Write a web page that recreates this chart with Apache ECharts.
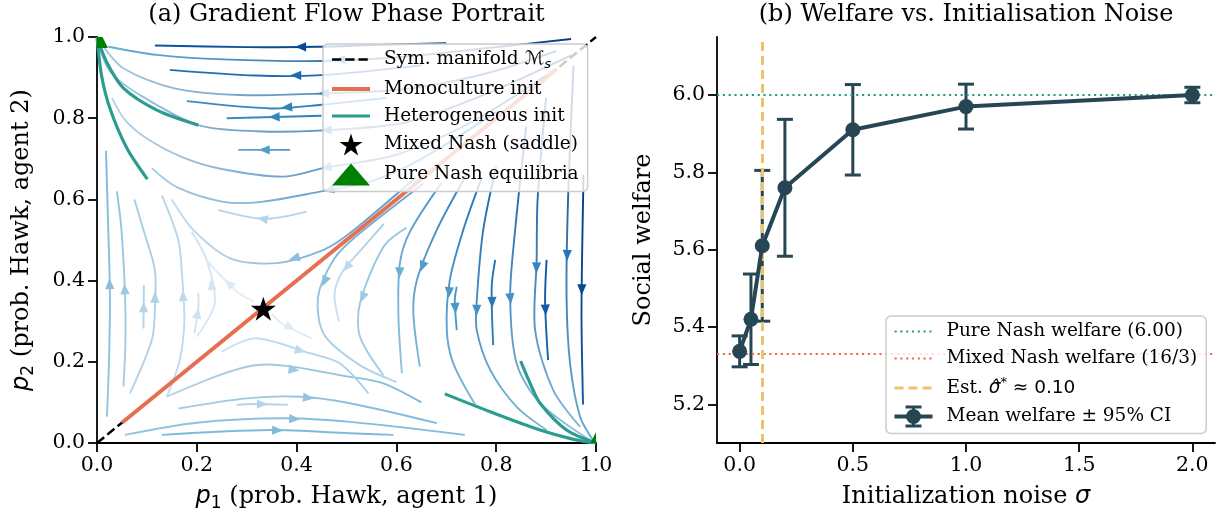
<!DOCTYPE html>
<html><head><meta charset="utf-8">
<script src="https://cdn.jsdelivr.net/npm/echarts@6/dist/echarts.min.js"></script>
<style>html,body{margin:0;padding:0;background:#fff}#c{width:1217px;height:523px}</style>
</head><body><div id="c"></div>
<script>
// ---------------- data ----------------
// (a) phase portrait: tick values
const phaseTicks = [0, 0.2, 0.4, 0.6, 0.8, 1.0];
// streamlines, ordered along the flow: [p1, p2]
const streamPaths = [
  [[0.70,0.985],[0.55,0.98],[0.44,0.976],[0.30,0.975],[0.116,0.979]],
  [[0.95,0.995],[0.80,0.975],[0.62,0.952],[0.45,0.941],[0.253,0.945],[0.12,0.956],[0.023,0.976]],
  [[0.65,0.93],[0.45,0.906],[0.317,0.905],[0.146,0.919]],
  [[0.92,0.965],[0.78,0.91],[0.62,0.872],[0.4536,0.861],[0.287,0.857],[0.153,0.874],[0.053,0.923],[0.008,0.985]],
  [[0.58,0.85],[0.45,0.833],[0.35,0.824],[0.18,0.842]],
  [[0.45,0.806],[0.26,0.80]],
  [[0.95,0.955],[0.78,0.86],[0.62,0.79],[0.4536,0.77],[0.32,0.768],[0.203,0.783],[0.086,0.857],[0.026,0.915],[0.005,0.975]],
  [[0.387,0.722],[0.283,0.722]],
  [[0.90,0.905],[0.75,0.79],[0.6,0.71],[0.4536,0.677],[0.373,0.656],[0.25,0.675],[0.173,0.703],[0.10,0.75],[0.056,0.796],[0.03,0.85]],
  [[0.80,0.815],[0.65,0.70],[0.55,0.645],[0.447,0.619],[0.33,0.594],[0.253,0.594],[0.16,0.63],[0.11,0.677]],
  [[0.42,0.57],[0.333,0.552],[0.243,0.574]],
  [[0.64,0.655],[0.507,0.517],[0.453,0.475],[0.36,0.443],[0.267,0.455],[0.193,0.525],[0.15,0.6]],
  [[0.02,0.065],[0.024,0.2],[0.026,0.36],[0.022,0.55],[0.018,0.72]],
  [[0.053,0.139],[0.057,0.25],[0.056,0.369],[0.049,0.525],[0.04,0.62]],
  [[0.093,0.282],[0.094,0.389]],
  [[0.066,0.122],[0.11,0.254],[0.116,0.328],[0.116,0.426],[0.093,0.525],[0.075,0.6]],
  [[0.14,0.114],[0.165,0.2],[0.175,0.3],[0.17,0.42],[0.163,0.5],[0.13,0.61]],
  [[0.195,0.27],[0.203,0.33],[0.203,0.37]],
  [[0.2,0.262],[0.236,0.344],[0.22,0.45],[0.19,0.52]],
  [[0.315,0.348],[0.28,0.373],[0.22,0.45]],
  [[0.35,0.318],[0.37,0.295],[0.43,0.258]],
  [[0.975,0.66],[0.972,0.45],[0.971,0.30],[0.974,0.095]],
  [[0.955,0.93],[0.944,0.6],[0.941,0.36],[0.948,0.196],[0.968,0.065],[0.995,0.005]],
  [[0.901,0.451],[0.898,0.348],[0.904,0.204]],
  [[0.9,0.85],[0.883,0.6],[0.881,0.447],[0.878,0.278],[0.914,0.131],[0.968,0.04]],
  [[0.86,0.78],[0.838,0.525],[0.828,0.36],[0.841,0.196],[0.888,0.098],[0.988,0.007]],
  [[0.798,0.451],[0.791,0.385],[0.794,0.241]],
  [[0.80,0.68],[0.774,0.525],[0.761,0.35],[0.761,0.278],[0.788,0.18],[0.841,0.089],[0.901,0.032]],
  [[0.721,0.385],[0.717,0.352],[0.721,0.278]],
  [[0.77,0.65],[0.734,0.525],[0.707,0.401],[0.701,0.278],[0.714,0.196],[0.758,0.094]],
  [[0.74,0.66],[0.681,0.525],[0.641,0.401],[0.634,0.319],[0.647,0.188]],
  [[0.69,0.64],[0.627,0.52],[0.607,0.443],[0.604,0.315],[0.611,0.172]],
  [[0.62,0.53],[0.574,0.483],[0.527,0.344],[0.527,0.262],[0.574,0.167]],
  [[0.655,0.64],[0.517,0.507],[0.475,0.453],[0.443,0.36],[0.455,0.267],[0.525,0.193],[0.6,0.15]],
  [[0.575,0.54],[0.525,0.47],[0.49,0.418],[0.476,0.365],[0.485,0.30]],
  [[0.13,0.02],[0.347,0.032],[0.507,0.024],[0.594,0.02]],
  [[0.056,0.02],[0.2,0.05],[0.373,0.061],[0.507,0.052],[0.737,0.02]],
  [[0.163,0.085],[0.3,0.11],[0.407,0.114],[0.507,0.098],[0.681,0.049]],
  [[0.28,0.094],[0.313,0.096],[0.383,0.094]],
  [[0.14,0.114],[0.32,0.192],[0.507,0.163],[0.574,0.147],[0.65,0.1]],
  [[0.25,0.225],[0.317,0.258],[0.427,0.221],[0.487,0.196],[0.544,0.122]]
];
// flow speed (0..1 on the Blues scale) at start and end of each streamline
const streamSpeed = [
  [0.95,0.85],[0.95,0.5],[0.8,0.75],[0.9,0.35],[0.72,0.65],[0.7,0.65],[0.9,0.35],[0.6,0.55],
  [0.85,0.3],[0.75,0.35],[0.3,0.3],[0.6,0.25],
  [0.4,0.45],[0.35,0.4],[0.3,0.3],[0.3,0.35],[0.25,0.3],[0.2,0.2],[0.15,0.2],[0.1,0.15],[0.1,0.15],
  [0.95,0.85],[0.95,0.5],[0.85,0.8],[0.9,0.45],[0.85,0.4],[0.75,0.7],[0.8,0.45],[0.6,0.6],
  [0.75,0.45],[0.7,0.45],[0.6,0.4],[0.4,0.35],[0.55,0.3],[0.35,0.2],
  [0.45,0.45],[0.4,0.45],[0.35,0.45],[0.3,0.3],[0.3,0.45],[0.2,0.35]
];
const symManifold = [[0,0],[1,1]];
const monoculture = [[0.05,0.05],[0.92,0.92]];
const heteroPaths = [
  [[0.203,0.783],[0.12,0.82],[0.053,0.874],[0.019,0.939],[0,1]],
  [[0.101,0.65],[0.06,0.726],[0.026,0.824],[0.009,0.906],[0,1]],
  [[0.697,0.121],[0.788,0.077],[0.888,0.032],[0.955,0.009],[1,0]],
  [[0.849,0.202],[0.868,0.147],[0.888,0.098],[0.941,0.032],[1,0]]
];
const mixedNash = [[1/3,1/3]];
const pureNash = [[0,1],[1,0]];

// (b) welfare vs noise
const sigmaValues = [0, 0.05, 0.1, 0.2, 0.5, 1.0, 2.0];
const meanWelfare = [5.337, 5.42, 5.61, 5.76, 5.91, 5.97, 6.0];
const ciHalf = [0.04, 0.117, 0.195, 0.177, 0.117, 0.058, 0.02];
const pureNashWelfare = 6.0;
const mixedNashWelfare = 16/3;
const sigmaStar = 0.10;
const sigmaTicks = [0, 0.5, 1.0, 1.5, 2.0];
const welfareTicks = [5.2, 5.4, 5.6, 5.8, 6.0];

// ---------------- helpers ----------------
const bluesStops = ['#f7fbff','#deebf7','#c6dbef','#9ecae1','#6baed6','#4292c6','#2171b5','#08519c','#08306b'];
function hex2rgb(h){return [parseInt(h.slice(1,3),16),parseInt(h.slice(3,5),16),parseInt(h.slice(5,7),16)];}
function blues(t){
  t=Math.max(0,Math.min(1,t));
  const f=t*(bluesStops.length-1), i=Math.min(Math.floor(f),bluesStops.length-2), r=f-i;
  const a=hex2rgb(bluesStops[i]), b=hex2rgb(bluesStops[i+1]);
  return 'rgb('+a.map((v,k)=>Math.round(v+(b[k]-v)*r)).join(',')+')';
}
const SERIF = 'DejaVu Serif';
const SANS = 'DejaVu Sans';
const starPath = 'path://M0,-10 L2.245,-3.09 L9.51,-3.09 L3.63,1.18 L5.88,8.09 L0,3.82 L-5.88,8.09 L-3.63,1.18 L-9.51,-3.09 L-2.245,-3.09 Z';
// legend glyph for "mean ± CI": line + marker + capped error bar (38 x 22 box)
const errIcon = 'path://M0,9 L38,9 L38,13 L0,13 Z M17.5,1.5 L20.5,1.5 L20.5,20.5 L17.5,20.5 Z M11,0 L27,0 L27,3 L11,3 Z M11,19 L27,19 L27,22 L11,22 Z M26.5,11 A7.5,7.5 0 1,1 11.5,11 A7.5,7.5 0 1,1 26.5,11 Z';
const C_ORANGE = '#e76f51', C_TEAL = '#2a9d8f', C_YELLOW = '#e9c46a', C_DARK = '#264653';

const tickFont = {fontFamily: SERIF, fontSize: 20.5, color: '#000'};
function axisCommon(){
  return {
    axisLine: {show: true, onZero: false, lineStyle: {color: '#000', width: 1.8}},
    axisTick: {show: true, length: 9, lineStyle: {color: '#000', width: 1.8}},
    splitLine: {show: false},
    axisLabel: Object.assign({margin: 12, formatter: v => Number(v).toFixed(1)}, tickFont),
    nameTextStyle: {
      fontFamily: SERIF, fontSize: 24, color: '#000',
      rich: {
        t: {fontFamily: SERIF, fontSize: 24, lineHeight: 30, color: '#000'},
        i: {fontFamily: SANS, fontStyle: 'italic', fontSize: 24, lineHeight: 30, color: '#000'},
        sub: {fontFamily: SANS, fontSize: 17, lineHeight: 17, verticalAlign: 'bottom', color: '#000'}
      }
    }
  };
}

const chart = echarts.init(document.getElementById('c'), null, {renderer: 'canvas'});

const streamSeries = {
  type: 'custom', name: 'streamlines', xAxisIndex: 0, yAxisIndex: 0, clip: true, silent: true, z: 1,
  data: streamPaths.map((p, i) => [p[0][0], p[0][1], i]),
  encode: {x: 0, y: 1},
  renderItem: function (params, api) {
    const i = api.value(2);
    const pts = streamPaths[i].map(p => api.coord(p));
    const sp = streamSpeed[i];
    const n = pts.length;
    const L = [0];
    for (let k = 1; k < n; k++) L.push(L[k-1] + Math.hypot(pts[k][0]-pts[k-1][0], pts[k][1]-pts[k-1][1]));
    const half = L[n-1] / 2;
    let k = 0; while (k < n - 2 && L[k+1] < half) k++;
    const seg = L[k+1] - L[k] || 1, t = (half - L[k]) / seg;
    const mx = pts[k][0] + (pts[k+1][0]-pts[k][0])*t, my = pts[k][1] + (pts[k+1][1]-pts[k][1])*t;
    let dx = pts[k+1][0]-pts[k][0], dy = pts[k+1][1]-pts[k][1];
    const dl = Math.hypot(dx, dy) || 1; dx /= dl; dy /= dl;
    const al = 11, aw = 4.6;
    const tip = [mx + dx*al/2, my + dy*al/2], base = [mx - dx*al/2, my - dy*al/2];
    const arrow = [tip, [base[0] - dy*aw, base[1] + dx*aw], [base[0] + dy*aw, base[1] - dx*aw]];
    const grad = new echarts.graphic.LinearGradient(pts[0][0], pts[0][1], pts[n-1][0], pts[n-1][1],
      [{offset: 0, color: blues(sp[0])}, {offset: 1, color: blues(sp[1])}], true);
    return {type: 'group', children: [
      {type: 'polyline', shape: {points: pts, smooth: 0.3}, style: {stroke: grad, lineWidth: 1.9, fill: null}},
      {type: 'polygon', shape: {points: arrow}, style: {fill: blues((sp[0]+sp[1])/2)}}
    ]};
  }
};

const heteroSeries = heteroPaths.map(p => ({
  type: 'line', name: 'Heterogeneous init', xAxisIndex: 0, yAxisIndex: 0, data: p, smooth: 0.3,
  symbol: 'none', z: 4, lineStyle: {color: C_TEAL, width: 3.2}, itemStyle: {color: C_TEAL}, silent: true
}));

const errorSeries = {
  type: 'custom', name: 'ci', xAxisIndex: 1, yAxisIndex: 1, z: 4, silent: true,
  data: sigmaValues.map((s, i) => [s, meanWelfare[i], ciHalf[i]]),
  encode: {x: 0, y: 1},
  renderItem: function (params, api) {
    const s = api.value(0), m = api.value(1), c = api.value(2);
    const top = api.coord([s, m + c]), bot = api.coord([s, m - c]);
    const cw = 8, st = {stroke: C_DARK, lineWidth: 3};
    return {type: 'group', children: [
      {type: 'line', shape: {x1: top[0], y1: top[1], x2: bot[0], y2: bot[1]}, style: st},
      {type: 'line', shape: {x1: top[0]-cw, y1: top[1], x2: top[0]+cw, y2: top[1]}, style: st},
      {type: 'line', shape: {x1: bot[0]-cw, y1: bot[1], x2: bot[0]+cw, y2: bot[1]}, style: st}
    ]};
  }
};

function refLine(name, color, width, dash, mark, z) {
  return {
    type: 'line', name: name, xAxisIndex: 1, yAxisIndex: 1, data: [], z: z, silent: true,
    symbol: 'none', lineStyle: {color: color, width: width, type: dash}, itemStyle: {color: color},
    markLine: {symbol: 'none', silent: true, animation: false, label: {show: false},
      lineStyle: {color: color, width: width, type: dash, opacity: 1},
      emphasis: {disabled: true}, data: [mark]}
  };
}

const hideSym = {color: 'rgba(0,0,0,0)', borderWidth: 0, borderColor: 'rgba(0,0,0,0)'};
const legendText = {
  fontFamily: SERIF, fontSize: 18.5, color: '#000', padding: [0, 0, 0, 9],
  rich: {
    t: {fontFamily: SERIF, fontSize: 18.5, lineHeight: 24, color: '#000'},
    m: {fontFamily: SANS, fontSize: 18.5, lineHeight: 24, color: '#000'},
    mi: {fontFamily: SANS, fontStyle: 'italic', fontSize: 18.5, lineHeight: 24, color: '#000'},
    sub: {fontFamily: SANS, fontStyle: 'italic', fontSize: 13, lineHeight: 13, verticalAlign: 'bottom', color: '#000'},
    sup: {fontFamily: SANS, fontSize: 13, lineHeight: 13, verticalAlign: 'top', color: '#000'}
  }
};
function legendFormatter(name) {
  if (name === 'Sym. manifold Ms') return '{t|Sym. manifold }{mi|ℳ}{sub|s}';
  if (name === 'Est. sigma') return '{t|Est. }{mi|σ̂}{sup|*}{m| ≈ 0.10}';
  return '{t|' + name + '}';
}
const legendBox = {
  orient: 'vertical', itemWidth: 38, itemHeight: 22, itemGap: 8, selectedMode: false, z: 20,
  backgroundColor: 'rgba(255,255,255,0.8)', borderColor: '#cccccc', borderWidth: 1.5, borderRadius: 5,
  textStyle: legendText, formatter: legendFormatter,
  lineStyle: {width: 'inherit', type: 'inherit', color: 'inherit'}
};

const option = {
  animation: false,
  backgroundColor: '#ffffff',
  graphic: [
    {type: 'text', x: 346.5, y: 15, style: {text: '(a) Gradient Flow Phase Portrait', fontFamily: SERIF, fontSize: 24, fill: '#000', textAlign: 'center', textVerticalAlign: 'middle'}},
    {type: 'text', x: 966, y: 15, style: {text: '(b) Welfare vs. Initialisation Noise', fontFamily: SERIF, fontSize: 24, fill: '#000', textAlign: 'center', textVerticalAlign: 'middle'}}
  ],
  grid: [
    {left: 97, top: 37, width: 499, height: 406},
    {left: 717, top: 37, width: 498, height: 406}
  ],
  xAxis: [
    Object.assign(axisCommon(), {type: 'value', gridIndex: 0, min: 0, max: 1, interval: 0.2,
      name: '{i|p}{sub|1}{t| (prob. Hawk, agent 1)}', nameLocation: 'middle', nameGap: 39}),
    Object.assign(axisCommon(), {type: 'value', gridIndex: 1, min: -0.1, max: 2.1,
      name: '{t|Initialization noise }{i|σ}', nameLocation: 'middle', nameGap: 39})
  ],
  yAxis: [
    Object.assign(axisCommon(), {type: 'value', gridIndex: 0, min: 0, max: 1, interval: 0.2,
      name: '{i|p}{sub|2}{t| (prob. Hawk, agent 2)}', nameLocation: 'middle', nameGap: 60}),
    Object.assign(axisCommon(), {type: 'value', gridIndex: 1, min: 5.1, max: 6.15,
      name: '{t|Social welfare}', nameLocation: 'middle', nameGap: 58})
  ],
  legend: [
    Object.assign({}, legendBox, {left: 323, top: 44, padding: [6, 9, 6, 7],
      data: [
        {name: 'Sym. manifold Ms', itemStyle: hideSym},
        {name: 'Monoculture init', itemStyle: hideSym},
        {name: 'Heterogeneous init', itemStyle: hideSym},
        {name: 'Mixed Nash (saddle)', itemStyle: {color: '#000', opacity: 1}},
        {name: 'Pure Nash equilibria', icon: 'triangle', itemStyle: {color: '#008000'}}
      ]}),
    Object.assign({}, legendBox, {left: 886, top: 316, padding: [6, 9, 6, 7],
      data: [
        {name: 'Pure Nash welfare (6.00)', itemStyle: hideSym},
        {name: 'Mixed Nash welfare (16/3)', itemStyle: hideSym},
        {name: 'Est. sigma', itemStyle: hideSym},
        {name: 'Mean welfare ± 95% CI', icon: errIcon, itemStyle: {color: C_DARK, opacity: 1}}
      ]})
  ],
  series: [
    streamSeries,
    {type: 'line', name: 'Sym. manifold Ms', xAxisIndex: 0, yAxisIndex: 0, data: symManifold, symbol: 'none', z: 2, silent: true,
      lineStyle: {color: '#000', width: 2.5, type: [9.25, 4]}, itemStyle: {color: '#000'}},
    {type: 'line', name: 'Monoculture init', xAxisIndex: 0, yAxisIndex: 0, data: monoculture, symbol: 'none', z: 3, silent: true,
      lineStyle: {color: C_ORANGE, width: 4}, itemStyle: {color: C_ORANGE}},
    ...heteroSeries,
    {type: 'scatter', name: 'Mixed Nash (saddle)', xAxisIndex: 0, yAxisIndex: 0, data: mixedNash, symbol: starPath,
      symbolSize: [25, 24], symbolOffset: [0, 1], itemStyle: {color: '#000', opacity: 1}, z: 6, silent: true},
    {type: 'custom', name: 'Pure Nash equilibria', xAxisIndex: 0, yAxisIndex: 0, data: pureNash, clip: true, z: 6, silent: true,
      itemStyle: {color: '#008000'},
      renderItem: function (params, api) {
        const c = api.coord([api.value(0), api.value(1)]), h = 11;
        return {type: 'polygon', shape: {points: [[c[0], c[1]-h], [c[0]-h, c[1]+h], [c[0]+h, c[1]+h]]}, style: {fill: '#008000'}};
      }},
    refLine('Pure Nash welfare (6.00)', C_TEAL, 2.2, [2.2, 3.6], {yAxis: pureNashWelfare}, 2),
    refLine('Mixed Nash welfare (16/3)', C_ORANGE, 2.2, [2.2, 3.6], {yAxis: mixedNashWelfare}, 2),
    errorSeries,
    refLine('Est. sigma', C_YELLOW, 3, [9, 5], {xAxis: sigmaStar}, 5),
    {type: 'line', name: 'Mean welfare ± 95% CI', xAxisIndex: 1, yAxisIndex: 1, z: 6, silent: true,
      data: sigmaValues.map((s, i) => [s, meanWelfare[i]]),
      symbol: 'circle', symbolSize: 15, showSymbol: true,
      lineStyle: {color: C_DARK, width: 4}, itemStyle: {color: C_DARK, opacity: 1}}
  ]
};
// tick values for the right-hand panel
option.xAxis[1].axisLabel.customValues = sigmaTicks;
option.xAxis[1].axisTick.customValues = sigmaTicks;
option.yAxis[1].axisLabel.customValues = welfareTicks;
option.yAxis[1].axisTick.customValues = welfareTicks;
chart.setOption(option);
</script>
</body></html>
